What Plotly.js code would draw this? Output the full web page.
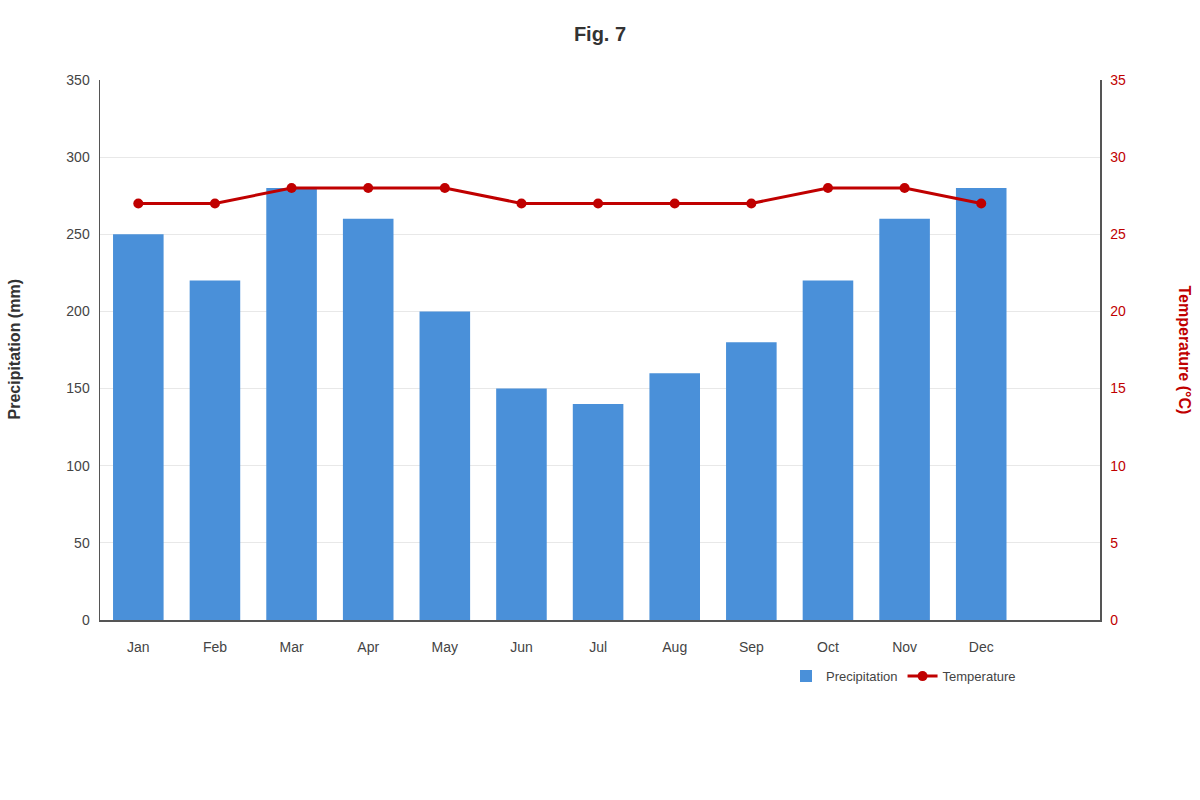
<!DOCTYPE html>
<html>
<head>
<meta charset="utf-8">
<script src="https://cdn.plot.ly/plotly-3.0.1.min.js"></script>
<style>
  html, body { margin: 0; padding: 0; background: #fff; }
  #chart { width: 1200px; height: 800px; }
</style>
</head>
<body>
<div id="chart"></div>
<script>
// Datos: precipitación mensual (mm) y temperatura (°C)
const MESES = ['Jan', 'Feb', 'Mar', 'Apr', 'May', 'Jun', 'Jul', 'Aug', 'Sep', 'Oct', 'Nov', 'Dec'];
const PRECIPITACION = [250, 220, 280, 260, 200, 150, 140, 160, 180, 220, 260, 280];
const TEMPERATURA = [27, 27, 28, 28, 28, 27, 27, 27, 27, 28, 28, 27];

const AZUL = '#4a90d9';
const ROJO = '#c00000';
const FUENTE = '"Liberation Sans", Arial, Helvetica, sans-serif';

const trazas = [
  {
    type: 'bar',
    name: 'Precipitation',
    x: MESES,
    y: PRECIPITACION,
    marker: { color: AZUL },
    width: 0.66,
    yaxis: 'y',
  },
  {
    type: 'scatter',
    mode: 'lines+markers',
    name: 'Temperature',
    x: MESES,
    y: TEMPERATURA,
    line: { color: ROJO, width: 3 },
    marker: { color: ROJO, size: 10 },
    yaxis: 'y2',
  },
];

const layout = {
  width: 1200,
  height: 800,
  margin: { t: 80, r: 100, b: 180, l: 100 },
  paper_bgcolor: '#fff',
  plot_bgcolor: '#fff',
  font: { family: FUENTE, size: 14, color: '#444' },
  title: { text: '<b>Fig. 7</b>', x: 0.5, xanchor: 'center', y: 0.958, yanchor: 'middle', font: { size: 20, color: '#333' } },
  showlegend: true,
  legend: {
    orientation: 'h', x: 0.686, xanchor: 'left', y: -0.104, yanchor: 'middle',
    font: { size: 13, color: '#444' }, itemwidth: 30, tracegroupgap: 0,
  },
  xaxis: {
    type: 'category',
    range: [-0.5, 12.55], // hay un hueco vacío después de Dec
    showline: true, linecolor: '#555', linewidth: 1.5,
    showgrid: false, zeroline: false,
    ticks: 'outside', ticklen: 14, tickcolor: 'rgba(0,0,0,0)',
    tickfont: { size: 14, color: '#444' },
  },
  yaxis: {
    range: [0, 350], dtick: 50,
    showline: true, linecolor: '#555', linewidth: 1.5,
    showgrid: true, gridcolor: '#e8e8e8', zeroline: false,
    ticks: 'outside', ticklen: 6, tickcolor: 'rgba(0,0,0,0)',
    tickfont: { size: 14, color: '#444' },
  },
  yaxis2: {
    overlaying: 'y', side: 'right',
    range: [0, 35], dtick: 5,
    showline: true, linecolor: '#555', linewidth: 1.5,
    showgrid: false, zeroline: false,
    ticks: 'outside', ticklen: 6, tickcolor: 'rgba(0,0,0,0)',
    tickfont: { size: 14, color: ROJO },
  },
  annotations: [
    { text: '<b>Precipitation (mm)</b>', xref: 'paper', yref: 'paper', x: -0.097, y: 0.5, textangle: -90, showarrow: false, font: { size: 16, color: '#333' } },
    { text: '<b>Temperature (°C)</b>', xref: 'paper', yref: 'paper', x: 1.095, y: 0.5, textangle: 90, showarrow: false, font: { size: 16, color: ROJO } },
  ],
};

Plotly.newPlot('chart', trazas, layout, { displayModeBar: false, staticPlot: true });
</script>
</body>
</html>
